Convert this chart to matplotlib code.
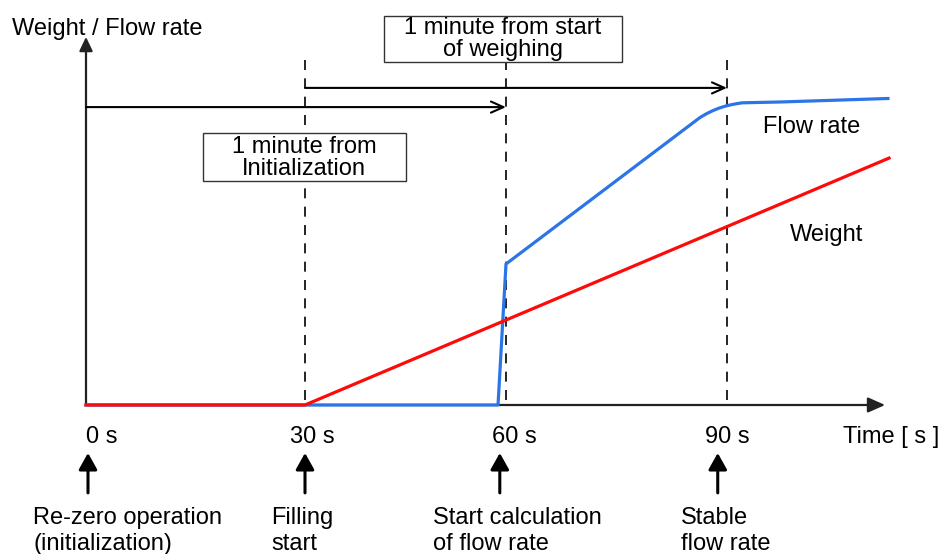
import matplotlib.pyplot as plt
from matplotlib.patches import Rectangle

plt.rcParams['font.family'] = ['Liberation Sans', 'DejaVu Sans']

# event positions on the time axis (schematic, seconds)
event_t = [0, 30.75, 58.97, 90.0]
tick_labels = ['0 s', '30 s', '60 s', '90 s']
event_labels = ['Re-zero operation\n(initialization)', 'Filling\nstart',
                'Start calculation\nof flow rate', 'Stable\nflow rate']

# weight curve
weight_t = [0, 30.75, 112.75]
weight_v = [0, 0, 82.3]

# flow rate curve
flow_t = [0, 30.75, 57.85, 58.97, 86.21, 87.05, 87.90, 88.74, 89.58,
          90.42, 91.26, 92.11, 97.44, 112.6]
flow_v = [0, 0, 0, 47.0, 95.83, 97.0, 98.0, 98.83, 99.5,
          100.0, 100.4, 100.73, 101.0, 102.17]

RED = '#ff0a0a'
BLUE = '#2c75e6'
FS = 17

fig = plt.figure(figsize=(9.49, 5.54), dpi=100)
ax = fig.add_axes([0, 0, 1, 1])
ax.set_xlim(-12.075, 121.17)
ax.set_ylim(-49.67, 135)
ax.axis('off')

# axes with arrow heads
ax.annotate('', xy=(0, 122.7), xytext=(0, 0),
            arrowprops=dict(arrowstyle='-|>,head_length=0.42,head_width=0.2',
                            lw=1.6, color='#222222', mutation_scale=20,
                            shrinkA=0, shrinkB=0))
ax.annotate('', xy=(112.2, 0), xytext=(0, 0),
            arrowprops=dict(arrowstyle='-|>,head_length=0.52,head_width=0.23',
                            lw=1.6, color='#222222', mutation_scale=20,
                            shrinkA=0, shrinkB=0))

# dashed guide lines
dash_top = [116.7, 114.0, 117.3]
for t, top in zip(event_t[1:], dash_top):
    ax.plot([t, t], [1.5, top], color='black', lw=1.2,
            linestyle=(0, (6, 5)), zorder=2)

# curves
ax.plot(flow_t, flow_v, color=BLUE, lw=2.3, zorder=4, solid_joinstyle='round')
ax.plot(weight_t, weight_v, color=RED, lw=2.3, zorder=5, solid_joinstyle='round')

# interval arrows
ax.annotate('', xy=(event_t[2], 99.3), xytext=(0, 99.3),
            arrowprops=dict(arrowstyle='->,head_length=0.45,head_width=0.2',
                            lw=1.5, color='black', mutation_scale=20,
                            shrinkA=0, shrinkB=0))
ax.annotate('', xy=(event_t[3], 105.7), xytext=(event_t[1], 105.7),
            arrowprops=dict(arrowstyle='->,head_length=0.45,head_width=0.2',
                            lw=1.5, color='black', mutation_scale=20,
                            shrinkA=0, shrinkB=0))

# boxes
ax.add_patch(Rectangle((41.84, 114.33), 33.42, 15.34, facecolor='white',
                       edgecolor='#333333', lw=1.0, zorder=6))
ax.text(58.55, 122.0, '1 minute from start\nof weighing', ha='center',
        va='center', fontsize=FS, linespacing=1.0, zorder=7)
ax.add_patch(Rectangle((16.43, 74.67), 28.5, 16.0, facecolor='white',
                       edgecolor='#333333', lw=1.0, zorder=6))
ax.text(30.6, 82.3, '1 minute from\nInitialization', ha='center',
        va='center', fontsize=FS, linespacing=1.0, zorder=7)

# texts
ax.text(-10.4, 123.3, 'Weight / Flow rate', fontsize=FS, va='baseline')
ax.text(95.06, 90.7, 'Flow rate', fontsize=FS, va='baseline')
ax.text(98.85, 54.7, 'Weight', fontsize=FS, va='baseline')

tick_x = [0, 28.64, 57.0, 86.9]
for x, lab in zip(tick_x, tick_labels):
    ax.text(x, -12.67, lab, fontsize=FS, va='baseline')
ax.text(106.26, -12.67, 'Time [ s ]', fontsize=FS, va='baseline')

# event arrows and labels
arrow_x = [0.28, 30.75, 58.1, 88.7]
label_x = [-7.44, 25.98, 48.72, 83.54]
for ax_x, lx, lab in zip(arrow_x, label_x, event_labels):
    ax.annotate('', xy=(ax_x, -16.0), xytext=(ax_x, -29.3),
                arrowprops=dict(arrowstyle='-|>,head_length=0.5,head_width=0.28',
                                lw=2.2, color='black', mutation_scale=20,
                                shrinkA=0, shrinkB=0))
    ax.text(lx, -34.0, lab, fontsize=FS, va='top', ha='left', linespacing=1.22)

fig.savefig('out.png', dpi=100, facecolor='white')
